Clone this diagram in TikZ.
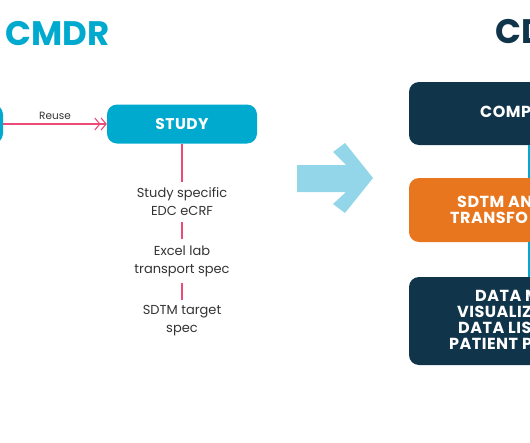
\documentclass[tikz,border=0pt]{standalone}
\usepackage{fontspec}
\setmainfont{Poppins}
\newfontfamily\boxfont[LetterSpace=3.0]{Poppins}
\usetikzlibrary{arrows.meta,positioning}
\definecolor{cmdrcyan}{HTML}{00A9CE}
\definecolor{linkpink}{HTML}{EC4A77}
\definecolor{cdnavy}{HTML}{10344A}
\definecolor{cdorange}{HTML}{E8761E}
\definecolor{flowblue}{HTML}{93D6EA}
\definecolor{bodygray}{HTML}{333333}

\begin{document}
\begin{tikzpicture}[x=1pt,y=-1pt,
  box/.style={rounded corners=10pt, minimum height=39pt, minimum width=150pt, fill=cmdrcyan, text=white, font=\boxfont\fontsize{15.5}{18}\selectfont\bfseries},
  cdbox/.style={rounded corners=10pt, minimum width=260pt, fill=cdnavy},
  title/.style={anchor=base west, inner sep=0pt, font=\fontsize{34}{40}\selectfont\bfseries},
  item/.style={align=center, inner sep=6pt, text=bodygray, font=\fontsize{13}{18}\selectfont},
  boxtext/.style={anchor=base west, inner sep=0pt, text=white, font=\boxfont\fontsize{16}{16}\selectfont\bfseries},
  link/.style={draw=linkpink, line width=1.1pt},
  >={Straight Barb[length=5pt,width=12pt]}
]
\useasboundingbox (0,0) rectangle (530,442);
\clip (0,0) rectangle (530,442);

% CMDR side
\node[title, text=cmdrcyan] (cmdr) at (5,45) {CMDR};
\node[box] (source) at (-72,124) {};
\node[box] (study) at (182,124) {STUDY};
\node[item] (edc) at (182,202) {Study specific\\EDC eCRF};
\node[item] (lab) at (182,261) {Excel lab\\transport spec};
\node[item] (target) at (182,321) {SDTM target\\spec};

\draw[link, -{>[sep=0pt]>}] (source) -- node[above, inner sep=4pt, text=bodygray, font=\fontsize{10.5}{12}\selectfont] {Reuse} (study);
\draw[link] (study) -- (edc); \draw[link] (edc) -- (lab); \draw[link] (lab) -- (target);

% big arrow
\fill[flowblue] (297,165) -- (346,165) -- (333,152) -- (345,143) -- (373,178) -- (345,213) -- (333,204) -- (346,192) -- (297,192) -- cycle;

% CD side
\node[title, text=cdnavy] (cd) at (495,43) {CD};
\node[cdbox, minimum height=63pt] (comp) at (539,113.5) {};
\node[cdbox, minimum height=64pt, fill=cdorange] (sdtm) at (539,210) {};
\node[cdbox, minimum height=88pt] (dm) at (539,321) {};
\coordinate (vx) at (528.5,0);
\draw[cmdrcyan, line width=2pt] (comp.south -| vx) -- (sdtm.north -| vx);
\draw[cmdrcyan, line width=2pt] (sdtm.south -| vx) -- (dm.north -| vx);

\node[boxtext] (t1) at (480,117) {COMP};
\node[boxtext] (t2) at (457,207) {SDTM AN};
\node[boxtext] (t3) at (450,223) {TRANSFO};
\node[boxtext] (t4) at (475,301) {DATA M};
\node[boxtext] (t5) at (457,317) {VISUALIZ};
\node[boxtext] (t6) at (458,333) {DATA LIS};
\node[boxtext] (t7) at (449,349) {PATIENT P};
\end{tikzpicture}
\end{document}
